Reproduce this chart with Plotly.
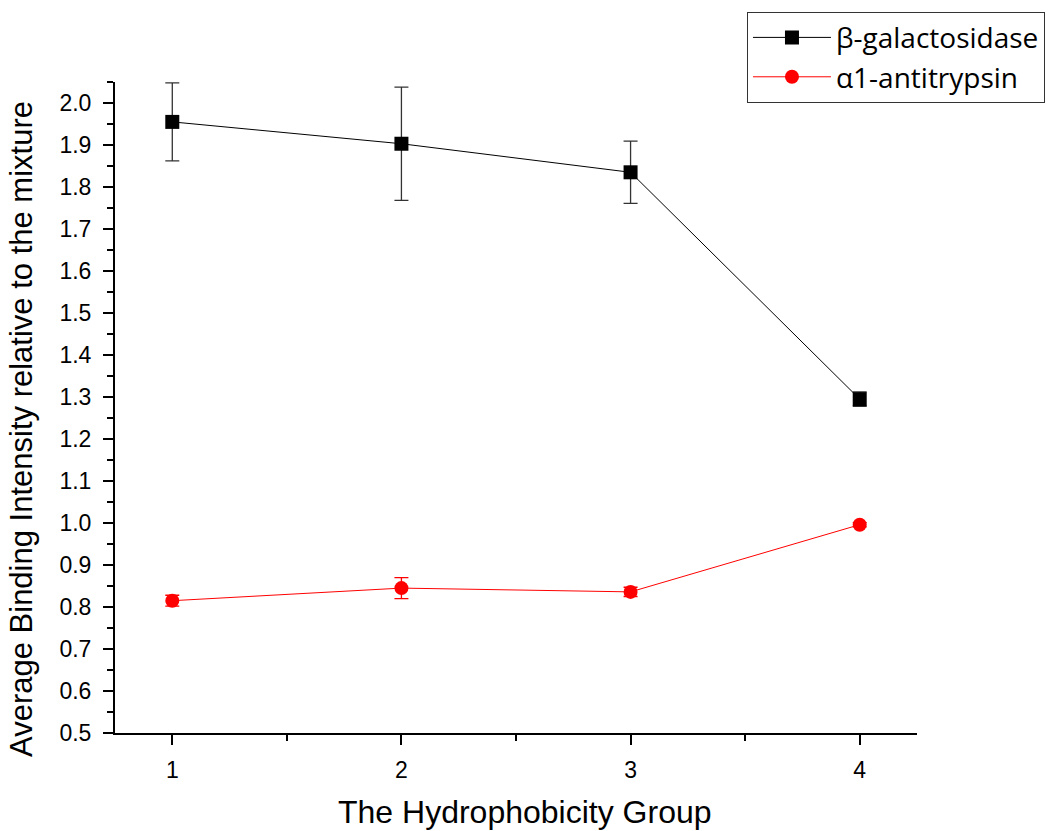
import plotly.graph_objects as go

# Hydrophobicity groups
groups = [1, 2, 3, 4]

# Average binding intensity relative to the mixture, with error bars
beta_gal = [1.955, 1.903, 1.835, 1.295]
beta_gal_err = [0.093, 0.135, 0.074, 0.017]

a1at = [0.815, 0.845, 0.836, 0.996]
a1at_err = [0.013, 0.025, 0.011, 0.005]

fig = go.Figure()

fig.add_trace(go.Scatter(
    x=groups, y=beta_gal, name="β-galactosidase", mode="lines+markers",
    line=dict(color="black", width=1),
    marker=dict(symbol="square", size=14, color="black"),
    error_y=dict(type="data", array=beta_gal_err, color="#333333", thickness=1.3, width=7),
))
fig.add_trace(go.Scatter(
    x=groups, y=a1at, name="α1-antitrypsin", mode="lines+markers",
    line=dict(color="red", width=1),
    marker=dict(symbol="circle", size=14, color="red"),
    error_y=dict(type="data", array=a1at_err, color="red", thickness=1.3, width=7),
))

axis_font = dict(family="Liberation Sans, Arial, sans-serif", size=23, color="black")

fig.update_layout(
    width=1057, height=831,
    margin=dict(l=115, r=139, t=80, b=98),
    paper_bgcolor="white", plot_bgcolor="white",
    showlegend=True,
    legend=dict(
        x=0.788, y=1.108, xanchor="left", yanchor="top",
        bordercolor="#333333", borderwidth=1, bgcolor="white",
        font=dict(family="Open Sans, sans-serif", size=28, color="black"),
        tracegroupgap=0, itemwidth=78,
    ),
    xaxis=dict(
        range=[0.75, 4.25], tickvals=groups, ticktext=[str(g) for g in groups],
        showline=True, linecolor="black", linewidth=2, mirror=False,
        showgrid=False, zeroline=False, automargin=False,
        ticks="outside", ticklen=10, tickwidth=2, tickcolor="black",
        minor=dict(dtick=0.5, tick0=0.5, ticks="outside", ticklen=6, tickwidth=2, tickcolor="black"),
        tickfont=axis_font, ticklabelstandoff=5,
    ),
    yaxis=dict(
        range=[0.5, 2.05], dtick=0.1, tick0=0.5, tickformat=".1f",
        showline=True, linecolor="black", linewidth=2, mirror=False,
        showgrid=False, zeroline=False, automargin=False,
        ticks="outside", ticklen=10, tickwidth=2, tickcolor="black",
        minor=dict(dtick=0.05, tick0=0.5, ticks="outside", ticklen=6, tickwidth=2, tickcolor="black"),
        tickfont=axis_font, ticklabelstandoff=7,
    ),
    annotations=[
        dict(
            text="Average Binding Intensity relative to the mixture",
            xref="paper", yref="paper", x=-0.116, y=0.467,
            xanchor="center", yanchor="middle", textangle=-90, showarrow=False,
            font=dict(family="Liberation Sans, Arial, sans-serif", size=31, color="black"),
        ),
        dict(
            text="The Hydrophobicity Group",
            xref="paper", yref="paper", x=0.511, y=-0.121,
            xanchor="center", yanchor="middle", showarrow=False,
            font=dict(family="Liberation Sans, Arial, sans-serif", size=32, color="black"),
        ),
    ],
)

fig.write_html("out.html")
